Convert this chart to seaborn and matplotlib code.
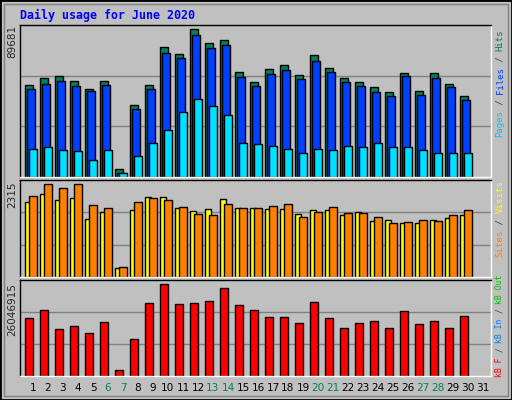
import numpy as np
import pandas as pd
import matplotlib
matplotlib.use("Agg")
import matplotlib.pyplot as plt
from matplotlib.patches import Rectangle
import seaborn as sns

days = list(range(1, 31))
weekend_days = [6, 7, 13, 14, 20, 21, 27, 28]

hits = [55450, 59700, 60950, 57900, 53600, 57900, 5060, 43900, 55450, 78550,
        74300, 89681, 80970, 82800, 63360, 57290, 65200, 67600, 61530, 73680,
        65760, 59700, 57290, 54250, 51210, 62720, 52400, 62720, 56090, 49370]
files = [53030, 56070, 57900, 54870, 51820, 55450, 2630, 41500, 53030, 74900,
         71860, 85820, 77930, 79750, 60320, 54870, 62140, 64580, 59100, 70040,
         63360, 57290, 54870, 51210, 49370, 60950, 49980, 59700, 54250, 46950]
pages = [17200, 18420, 16600, 15990, 10520, 16600, 2630, 12950, 20850, 28740,
         39680, 47560, 43320, 37850, 20850, 20240, 19030, 17200, 14780, 17200,
         16600, 19030, 18420, 20850, 18420, 18420, 16600, 14780, 14780, 14780]
sites = [1862, 2064, 1913, 1963, 1435, 1610, 227, 1661, 1988, 1988,
         1711, 1636, 1686, 1938, 1711, 1711, 1686, 1686, 1560, 1661,
         1661, 1535, 1610, 1384, 1409, 1334, 1334, 1409, 1460, 1535]
visits = [2013, 2315, 2215, 2315, 1787, 1711, 252, 1862, 1963, 1913,
          1737, 1560, 1535, 1812, 1711, 1711, 1762, 1812, 1485, 1610,
          1737, 1585, 1585, 1485, 1334, 1359, 1409, 1384, 1535, 1661]
kbytes = [16350000, 18630000, 13200000, 14070000, 12070000, 15200000, 1800000, 10360000,
          20600000, 26046915, 20300000, 20600000, 21200000, 24900000, 20070000, 18630000,
          16600000, 16600000, 14900000, 20900000, 16350000, 13700000, 14900000, 15500000,
          13700000, 18350000, 14600000, 15500000, 13700000, 16900000]

BG = "#c0c0c0"
sns.set_style("white")
plt.rcParams["font.family"] = ["DejaVu Sans"]

fig = plt.figure(figsize=(5.12, 4.0), dpi=100)
fig.patch.set_facecolor(BG)
fig.patches.append(Rectangle((0, 0), 1, 1, transform=fig.transFigure, fill=False,
                             edgecolor="black", linewidth=2))
fig.patches.append(Rectangle((4 / 512, 4 / 400), 504 / 512, 392 / 400, transform=fig.transFigure,
                             fill=False, edgecolor="#808080", linewidth=1))

W, H = 512, 400
def axes_px(top, bottom):
    return fig.add_axes([20 / W, 1 - bottom / H, 471 / W, (bottom - top) / H])

ax1 = axes_px(25, 177)
ax2 = axes_px(180, 277)
ax3 = axes_px(280, 376)

df = pd.DataFrame({"day": days, "hits": hits, "files": files, "pages": pages,
                   "sites": sites, "visits": visits, "kb": kbytes})

def bars(ax, col, offset, width, color):
    sns.barplot(x=df["day"] + offset, y=df[col], native_scale=True, width=width,
                color=color, saturation=1, edgecolor="black", linewidth=1, ax=ax)

bars(ax1, "hits", -0.27, 0.53, "#00805c")
bars(ax1, "files", -0.13, 0.53, "#0040ff")
bars(ax1, "pages", 0.0, 0.53, "#00e0ff")
bars(ax2, "sites", -0.33, 0.42, "#ffff00")
bars(ax2, "visits", 0.0, 0.5, "#ff8000")
bars(ax3, "kb", -0.27, 0.53, "#ff0000")

for ax, ymax in [(ax1, 92100), (ax2, 2416), (ax3, 27188000)]:
    ax.set_facecolor(BG)
    ax.set_xlim(0.133, 31.53)
    ax.set_ylim(0, ymax)
    ax.set_yticks([ymax / 3, ymax * 2 / 3])
    ax.set_yticklabels([])
    ax.set_xticks([])
    ax.tick_params(length=0)
    ax.grid(axis="y", color="#808080", linewidth=1)
    ax.set_axisbelow(True)
    ax.set_xlabel("")
    ax.set_ylabel("")
    for s in ["top", "left"]:
        ax.spines[s].set_color("black")
    for s in ["bottom", "right"]:
        ax.spines[s].set_color("white")
    for s in ax.spines.values():
        s.set_linewidth(1)

# day labels
for d in range(1, 32):
    c = "#00805c" if d in weekend_days else "black"
    ax3.text(d, -0.13, str(d), transform=ax3.get_xaxis_transform(), ha="center", va="center",
             fontsize=7.6, color=c)

fig.text(20 / W, 1 - 15 / H, "Daily usage for June 2020", ha="left", va="center",
         fontsize=8.4, fontweight="bold", family="DejaVu Sans Mono", color="#0000ff")

# max labels on left
for ypx, lab in [(25, str(max(hits))), (181, str(max(visits))), (283, str(max(kbytes)))]:
    fig.text(12 / W, 1 - ypx / H, lab, rotation=90, ha="center", va="top", fontsize=7.5)

# right side legends, one string per legend so pieces cannot overlap
def vlegend(bottom_px, parts, step):
    size = step * 72 / 60
    pos = 0
    for txt, col in parts:
        fig.text(500 / W, 1 - (bottom_px - pos * step) / H, txt, rotation=90, ha="center",
                 va="bottom", fontsize=size, family="DejaVu Sans Mono", color=col)
        pos += len(txt)

vlegend(137, [("Pages", "#00c0ff"), (" / ", "#404040"), ("Files", "#0040ff"),
              (" / ", "#404040"), ("Hits", "#00805c")], 5.4)
vlegend(257, [("Sites", "#ff8000"), (" / ", "#404040"), ("Visits", "#ffff00")], 5.5)
vlegend(377, [("kB F", "#ff0000"), (" / ", "#404040"), ("kB In", "#0080ff"),
              (" / ", "#404040"), ("kB Out", "#00c000")], 4.9)

fig.savefig("out.png", dpi=100, facecolor=BG)
